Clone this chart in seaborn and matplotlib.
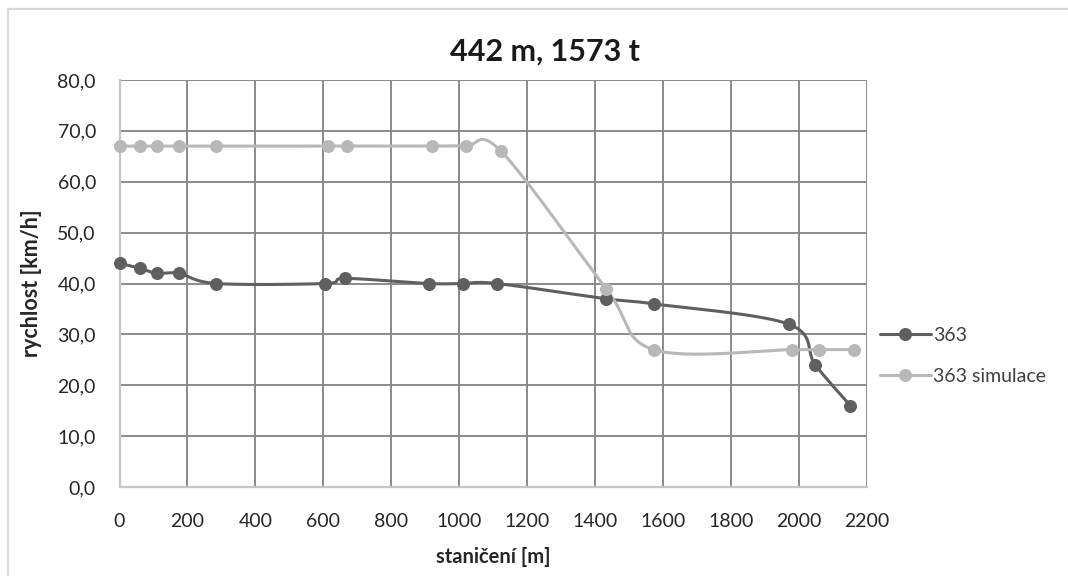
import numpy as np
import pandas as pd
import matplotlib
matplotlib.use("Agg")
import matplotlib.pyplot as plt
from matplotlib.lines import Line2D
from matplotlib.patches import Rectangle
from matplotlib.ticker import FuncFormatter
import seaborn as sns

# Measured speeds along the track
title = "442 m, 1573 t"
x_label = "staničení [m]"
y_label = "rychlost [km/h]"

measured_name = "363"
measured_pos = [0, 60, 110, 175, 285, 605, 665, 910, 1010, 1110, 1432, 1572, 1970, 2048, 2151]
measured_speed = [44, 43, 42, 42, 40, 40, 41, 40, 40, 40, 37, 36, 32, 24, 16]

sim_name = "363 simulace"
sim_pos = [0, 60, 110, 175, 285, 615, 670, 920, 1020, 1123, 1432, 1572, 1980, 2058, 2161]
sim_speed = [67, 67, 67, 67, 67, 67, 67, 67, 67, 66, 39, 27, 27, 27, 27]

x_ticks = list(range(0, 2201, 200))
y_ticks = list(range(0, 81, 10))

dark = "#5f5f5f"
light = "#b8b8b8"
grid_col = "#8a8a8a"
axis_col = "#c6c6c6"
text_col = "#262626"


def smooth(xs, ys, n=40):
    """Cubic Bezier through the points with Catmull-Rom style control points."""
    pts = np.column_stack([xs, ys]).astype(float)
    out = []
    m = len(pts)
    t = np.linspace(0, 1, n)[:, None]
    for i in range(m - 1):
        p0 = pts[i - 1] if i > 0 else pts[i]
        p1 = pts[i]
        p2 = pts[i + 1]
        p3 = pts[i + 2] if i + 2 < m else pts[i + 1]
        c1 = p1 + (p2 - p0) / 6.0
        c2 = p2 - (p3 - p1) / 6.0
        seg = ((1 - t) ** 3) * p1 + 3 * ((1 - t) ** 2) * t * c1 + 3 * (1 - t) * t ** 2 * c2 + t ** 3 * p2
        out.append(seg if i == 0 else seg[1:])
    arr = np.vstack(out)
    return arr[:, 0], arr[:, 1]


sns.set_theme(style="white")
plt.rcParams["font.family"] = ["Lato", "DejaVu Sans"]

W, H = 1068, 576
fig = plt.figure(figsize=(W / 100, H / 100), dpi=100)
left, right, top, bottom = 119.5, 867.0, 80.0, 487.0
ax = fig.add_axes([left / W, 1 - bottom / H, (right - left) / W, (bottom - top) / H])

for xs, ys, col, name in [(measured_pos, measured_speed, dark, measured_name),
                          (sim_pos, sim_speed, light, sim_name)]:
    sx, sy = smooth(xs, ys)
    curve = pd.DataFrame({"x": sx, "y": sy})
    sns.lineplot(data=curve, x="x", y="y", sort=False, estimator=None, ax=ax,
                 color=col, linewidth=2.2, zorder=3, clip_on=False)
    pts = pd.DataFrame({"x": xs, "y": ys})
    sns.scatterplot(data=pts, x="x", y="y", ax=ax, color=col, s=88,
                    linewidth=0, zorder=4, clip_on=False)

ax.set_xlim(0, 2200)
ax.set_ylim(0, 80)
ax.set_xticks(x_ticks)
ax.set_yticks(y_ticks)
ax.yaxis.set_major_formatter(FuncFormatter(lambda v, p: f"{v:.1f}".replace(".", ",")))
ax.xaxis.set_major_formatter(FuncFormatter(lambda v, p: f"{int(v)}"))
ax.grid(True, color=grid_col, linewidth=1.4)
ax.set_axisbelow(True)
for s in ["top", "right"]:
    ax.spines[s].set_visible(False)
for s in ["left", "bottom"]:
    ax.spines[s].set_color(axis_col)
    ax.spines[s].set_linewidth(1.6)
    ax.spines[s].set_zorder(2.5)
ax.tick_params(axis="both", length=0, labelsize=14, colors=text_col)
ax.tick_params(axis="y", pad=17)
ax.tick_params(axis="x", pad=19)

ax.set_xlabel(x_label, fontsize=14.5, fontweight="bold", color=text_col, labelpad=12)
ax.set_ylabel(y_label, fontsize=15.5, fontweight="bold", color=text_col, labelpad=11)

fig.text(545 / W, 1 - 52 / H, title, ha="center", va="center",
         fontsize=22, fontweight="bold", color="#1a1a1a")

handles = [
    Line2D([], [], color=dark, lw=2.2, marker="o", markersize=9.4, markeredgewidth=0),
    Line2D([], [], color=light, lw=2.2, marker="o", markersize=9.4, markeredgewidth=0),
]
fig.legend(handles, [measured_name, sim_name], loc="center left",
           bbox_to_anchor=(880 / W, 1 - 356 / H), frameon=False, fontsize=14,
           handlelength=2.6, handletextpad=0.15, labelspacing=1.25,
           borderpad=0, borderaxespad=0, labelcolor="#404040")

fig.add_artist(Rectangle((8 / W, -0.1), 2.0, (1 - 9 / H) + 0.1,
                         transform=fig.transFigure, fill=False,
                         edgecolor="#d9d9d9", linewidth=1.6))

fig.savefig("out.png", dpi=100, facecolor="white")
